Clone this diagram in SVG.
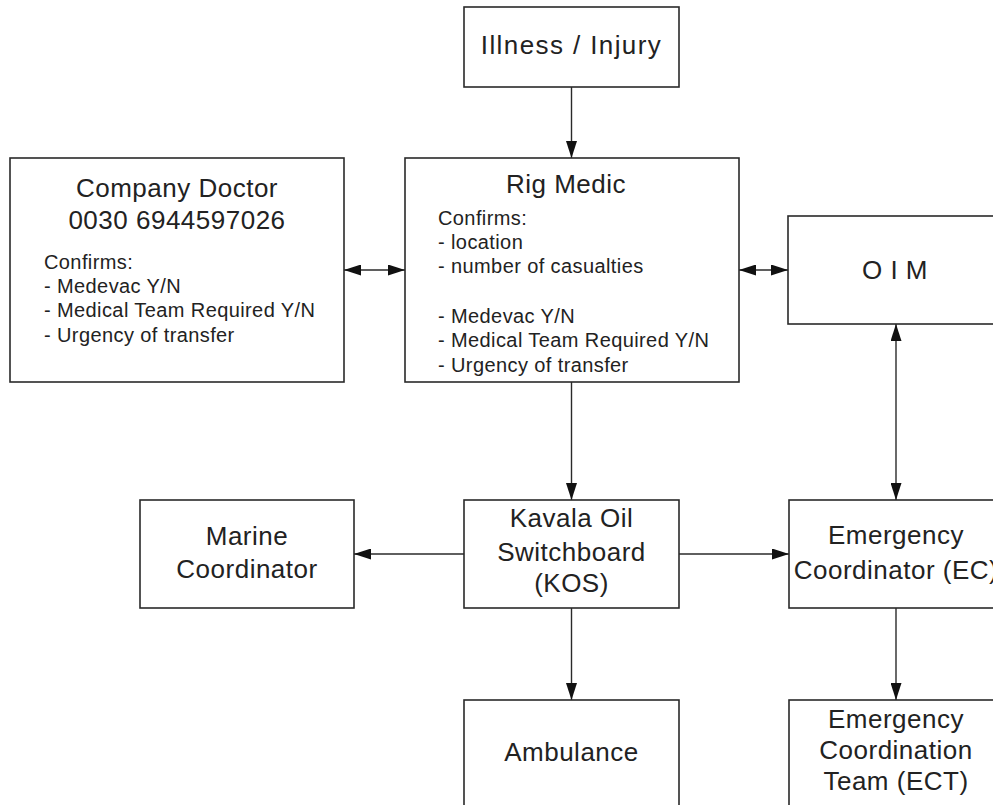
<svg xmlns="http://www.w3.org/2000/svg" width="993" height="805" viewBox="0 0 993 805">
  <style>
    .box { fill: #ffffff; stroke: #2a2a2a; stroke-width: 1.6; }
    .link { fill: none; stroke: #2a2a2a; stroke-width: 1.4; }
    .title { font-family: "Liberation Sans", Arial, sans-serif; font-size: 26px; fill: #222222; text-anchor: middle; letter-spacing: 0.5px; }
    .body { font-family: "Liberation Sans", Arial, sans-serif; font-size: 20px; fill: #222222; letter-spacing: 0.4px; }
    .wide { letter-spacing: 1.4px; }
  </style>
  <defs>
    <marker id="arrow" viewBox="0 0 17 11" refX="17" refY="5.5" markerWidth="17" markerHeight="11" markerUnits="userSpaceOnUse" orient="auto-start-reverse">
      <path d="M0,0 L17,5.5 L0,11 z" fill="#111111"/>
    </marker>
  </defs>
  <rect x="0" y="0" width="993" height="805" fill="#ffffff"/>

  <g id="connectors">
    <!-- Illness / Injury -> Rig Medic -->
    <line class="link" x1="571.5" y1="87" x2="571.5" y2="158" marker-end="url(#arrow)"/>
    <!-- Company Doctor <-> Rig Medic -->
    <line class="link" x1="344" y1="270" x2="405" y2="270" marker-start="url(#arrow)" marker-end="url(#arrow)"/>
    <!-- Rig Medic <-> OIM -->
    <line class="link" x1="739" y1="270" x2="788" y2="270" marker-start="url(#arrow)" marker-end="url(#arrow)"/>
    <!-- Rig Medic -> KOS -->
    <line class="link" x1="571.5" y1="382" x2="571.5" y2="500" marker-end="url(#arrow)"/>
    <!-- OIM <-> Emergency Coordinator -->
    <line class="link" x1="896" y1="324" x2="896" y2="500" marker-start="url(#arrow)" marker-end="url(#arrow)"/>
    <!-- KOS -> Marine Coordinator -->
    <line class="link" x1="464" y1="554" x2="354" y2="554" marker-end="url(#arrow)"/>
    <!-- KOS -> Emergency Coordinator -->
    <line class="link" x1="679" y1="554" x2="789" y2="554" marker-end="url(#arrow)"/>
    <!-- KOS -> Ambulance -->
    <line class="link" x1="571.5" y1="608" x2="571.5" y2="700" marker-end="url(#arrow)"/>
    <!-- Emergency Coordinator -> ECT -->
    <line class="link" x1="896" y1="608" x2="896" y2="700" marker-end="url(#arrow)"/>
  </g>

  <g id="illness-injury">
    <rect class="box" x="464" y="7" width="215" height="80"/>
    <text class="title wide" x="571.5" y="54">Illness / Injury</text>
  </g>

  <g id="company-doctor">
    <rect class="box" x="10" y="158" width="334" height="224"/>
    <text class="title" x="177" y="197">Company Doctor</text>
    <text class="title" x="177" y="229">0030 6944597026</text>
    <text class="body" x="44" y="269">Confirms:</text>
    <text class="body" x="44" y="293">- Medevac Y/N</text>
    <text class="body" x="44" y="317">- Medical Team Required Y/N</text>
    <text class="body" x="44" y="342">- Urgency of transfer</text>
  </g>

  <g id="rig-medic">
    <rect class="box" x="405" y="158" width="334" height="224"/>
    <text class="title" x="566" y="193">Rig Medic</text>
    <text class="body" x="438" y="225">Confirms:</text>
    <text class="body" x="438" y="249">- location</text>
    <text class="body" x="438" y="273">- number of casualties</text>
    <text class="body" x="438" y="323">- Medevac Y/N</text>
    <text class="body" x="438" y="347">- Medical Team Required Y/N</text>
    <text class="body" x="438" y="372">- Urgency of transfer</text>
  </g>

  <g id="oim">
    <rect class="box" x="788" y="216" width="216" height="108"/>
    <text class="title" x="895" y="279">O I M</text>
  </g>

  <g id="marine-coordinator">
    <rect class="box" x="140" y="500" width="214" height="108"/>
    <text class="title" x="247" y="545">Marine</text>
    <text class="title" x="247" y="578">Coordinator</text>
  </g>

  <g id="kos">
    <rect class="box" x="464" y="500" width="215" height="108"/>
    <text class="title" x="571.5" y="527">Kavala Oil</text>
    <text class="title" x="571.5" y="561">Switchboard</text>
    <text class="title" x="571.5" y="592">(KOS)</text>
  </g>

  <!-- right-hand column runs past the sheet edge, so its boxes and labels are clipped -->
  <g id="emergency-coordinator">
    <rect class="box" x="789" y="500" width="215" height="108"/>
    <text class="title" x="896" y="544">Emergency</text>
    <text class="title" x="896" y="579">Coordinator (EC)</text>
  </g>

  <g id="ambulance">
    <rect class="box" x="464" y="700" width="215" height="120"/>
    <text class="title" x="571.5" y="761">Ambulance</text>
  </g>

  <g id="ect">
    <rect class="box" x="789" y="700" width="215" height="120"/>
    <text class="title" x="896" y="728">Emergency</text>
    <text class="title" x="896" y="759">Coordination</text>
    <text class="title" x="896" y="790">Team (ECT)</text>
  </g>
</svg>
